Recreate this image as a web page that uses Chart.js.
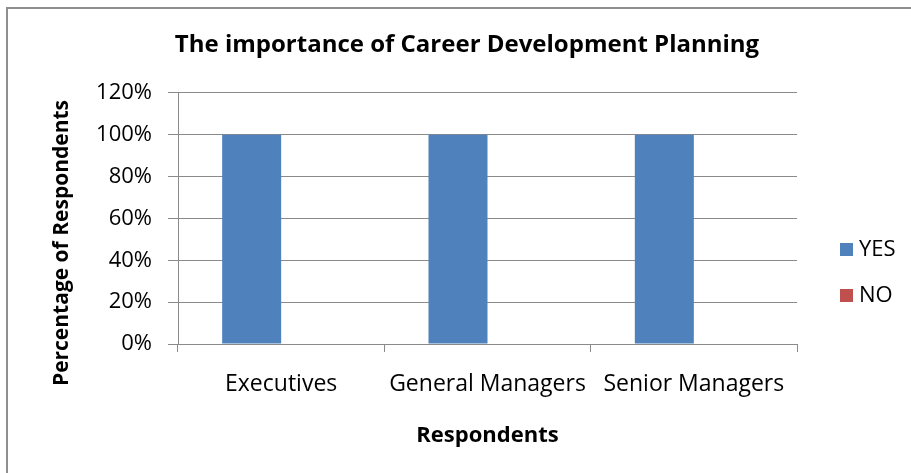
<!DOCTYPE html>
<html>
<head>
<meta charset="utf-8">
<script src="https://cdn.jsdelivr.net/npm/chart.js@4.4.1/dist/chart.umd.min.js"></script>
<style>
html, body { margin: 0; padding: 0; background: #fff; }
#wrap { width: 911px; height: 473px; position: relative; }
</style>
</head>
<body>
<div id="wrap"><canvas id="chart"></canvas></div>
<script>
// Data
var categories = ['Executives', 'General Managers', 'Senior Managers'];
var seriesNames = ['YES', 'NO'];
var yesValues = [100, 100, 100];
var noValues = [0, 0, 0];
var tickValues = [0, 20, 40, 60, 80, 100, 120];

var chartTitle = 'The importance of Career Development Planning';
var xTitle = 'Respondents';
var yTitle = 'Percentage of Respondents';

var fontFamily = '"Open Sans", "Liberation Sans", sans-serif';
var yesColor = '#4F81BD';
var noColor = '#C0504D';
var gridColor = '#8a8a8a';

// frame, rotated y title and legend (Excel style)
var decorPlugin = {
    id: 'decor',
    beforeDraw: function (chart) {
        var ctx = chart.ctx;
        ctx.save();
        ctx.fillStyle = '#fff';
        ctx.fillRect(0, 0, chart.width, chart.height);
        ctx.strokeStyle = '#8f8f8f';
        ctx.lineWidth = 2;
        ctx.beginPath();
        ctx.moveTo(7, chart.height);
        ctx.lineTo(7, 8);
        ctx.lineTo(chart.width, 8);
        ctx.stroke();
        ctx.restore();
    },
    afterDraw: function (chart) {
        var ctx = chart.ctx;
        var area = chart.chartArea;
        ctx.save();
        // y axis title
        ctx.translate(62, 243);
        ctx.rotate(-Math.PI / 2);
        ctx.font = 'bold 21px ' + fontFamily;
        ctx.fillStyle = '#000';
        ctx.textAlign = 'center';
        ctx.textBaseline = 'middle';
        ctx.fillText(yTitle, 0, 0);
        ctx.restore();

        // legend
        ctx.save();
        ctx.font = '22px ' + fontFamily;
        ctx.textBaseline = 'middle';
        ctx.textAlign = 'left';
        chart.data.datasets.forEach(function (ds, i) {
            var y = 250 + i * 46;
            var x = area.right + 43;
            ctx.fillStyle = ds.backgroundColor;
            ctx.fillRect(x, y - 7, 13, 13);
            ctx.fillStyle = '#000';
            ctx.fillText(ds.label, x + 19, y);
        });
        ctx.restore();
    }
};

var ctx = document.getElementById('chart');

var chart = new Chart(ctx, {
    type: 'bar',
    data: {
        labels: categories,
        datasets: [{
            label: seriesNames[0],
            data: yesValues,
            backgroundColor: yesColor,
            categoryPercentage: 0.572,
            barPercentage: 1
        }, {
            label: seriesNames[1],
            data: noValues,
            backgroundColor: noColor,
            categoryPercentage: 0.572,
            barPercentage: 1
        }]
    },
    options: {
        responsive: true,
        maintainAspectRatio: false,
        animation: false,
        layout: {
            padding: { left: 23, right: 0, top: 0, bottom: 0 }
        },
        plugins: {
            legend: { display: false },
            tooltip: { enabled: false },
            title: {
                display: true,
                text: chartTitle,
                color: '#000',
                font: { family: fontFamily, size: 24, weight: 'bold' },
                padding: { top: 31, bottom: 33 }
            }
        },
        scales: {
            x: {
                grid: {
                    display: true,
                    drawOnChartArea: false,
                    drawTicks: true,
                    tickLength: 8,
                    color: gridColor
                },
                border: { display: true, color: gridColor },
                ticks: {
                    color: '#000',
                    padding: 19,
                    maxRotation: 0,
                    font: { family: fontFamily, size: 23 }
                },
                title: {
                    display: true,
                    text: xTitle,
                    color: '#000',
                    font: { family: fontFamily, size: 22, weight: 'bold' },
                    padding: { top: 0, bottom: 24 }
                },
                afterFit: function (scale) { scale.height = 473 - 344; }
            },
            y: {
                min: 0,
                max: 120,
                afterBuildTicks: function (scale) {
                    scale.ticks = tickValues.map(function (v) { return { value: v }; });
                },
                grid: {
                    color: gridColor,
                    tickLength: 10
                },
                border: { display: true, color: gridColor },
                ticks: {
                    color: '#000',
                    padding: 16,
                    font: { family: fontFamily, size: 22 },
                    callback: function (v) { return v + '%'; }
                },
                afterFit: function (scale) { scale.width = 178 - 23; }
            },
            pad: {
                type: 'linear',
                position: 'right',
                display: true,
                grid: { display: false },
                border: { display: false },
                ticks: { display: false },
                afterFit: function (scale) { scale.width = 911 - 797; }
            }
        }
    },
    plugins: [decorPlugin]
});
</script>
</body>
</html>
